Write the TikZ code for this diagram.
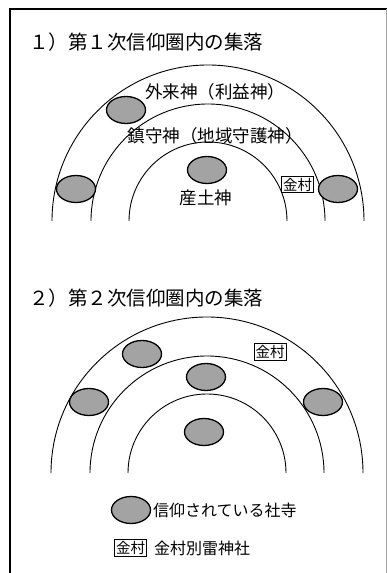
\documentclass[tikz,border=0pt]{standalone}
\usepackage{fontspec}
\setmainfont{Noto Sans CJK JP}
\usetikzlibrary{shapes.geometric}
\begin{document}
\begin{tikzpicture}[x=1pt,y=1pt,
  shrine/.style={ellipse,draw,line width=1.3pt,fill=black!36,minimum width=39,minimum height=27,inner sep=0pt},
  kbox/.style={draw,line width=0.8pt,inner sep=1.6pt,font=\fontsize{14.5}{14.5}\selectfont},
  ring/.style={line width=0.9pt},
  title/.style={anchor=west,inner sep=0pt,font=\fontsize{19.5}{19.5}\selectfont},
  lbl/.style={inner sep=0pt,font=\fontsize{17.5}{17.5}\selectfont},
  legtxt/.style={anchor=west,inner sep=0pt,font=\fontsize{16}{16}\selectfont}]
\useasboundingbox (0,0) rectangle (387,573);
% frame
\draw[line width=1.2pt] (10,0) -- (10,564) -- (387,564);
\draw[line width=0.8pt,black!35] (386,564) -- (386,0);
% panel 1
\node[title] (t1) at (29,531) {１）第１次信仰圏内の集落};
\coordinate (c1) at (208,352);
\draw[ring] ([xshift=-156]c1) arc (180:0:156);
\draw[ring] ([xshift=-117]c1) arc (180:0:117);
\draw[ring] ([xshift=-79]c1) arc (180:0:79);
\node[lbl] (l1) at (215,481.5) {外来神（利益神）};
\node[lbl] (l2) at (215,437) {鎮守神（地域守護神）};
\node[lbl] (l3) at (206,375) {産土神};
\node[shrine] (a1) at (126,463) {};
\node[shrine] (a2) at (76,384) {};
\node[shrine] (a3) at (207,403) {};
\node[shrine] (a4) at (338,384) {};
\node[kbox,fill=white] (k1) at (297.5,388.5) {金村};
% panel 2
\node[title] (t2) at (29,275) {２）第２次信仰圏内の集落};
\coordinate (c2) at (207,100);
\draw[ring] ([xshift=-156]c2) arc (180:0:156);
\draw[ring] ([xshift=-117]c2) arc (180:0:117);
\draw[ring] ([xshift=-79]c2) arc (180:0:79);
\node[shrine] (b1) at (142,219) {};
\node[shrine] (b2) at (206,196) {};
\node[shrine] (b3) at (89,171) {};
\node[shrine] (b4) at (323,171) {};
\node[shrine] (b5) at (204,141) {};
\node[kbox,fill=white] (k2) at (270,221) {金村};
% legend
\node[shrine] (leg1) at (131,63) {};
\node[legtxt] (leg1t) at (153,63) {信仰されている社寺};
\node[kbox] (leg2) at (130.5,25) {金村};
\node[legtxt] (leg2t) at (154,25) {金村別雷神社};
\end{tikzpicture}
\end{document}
